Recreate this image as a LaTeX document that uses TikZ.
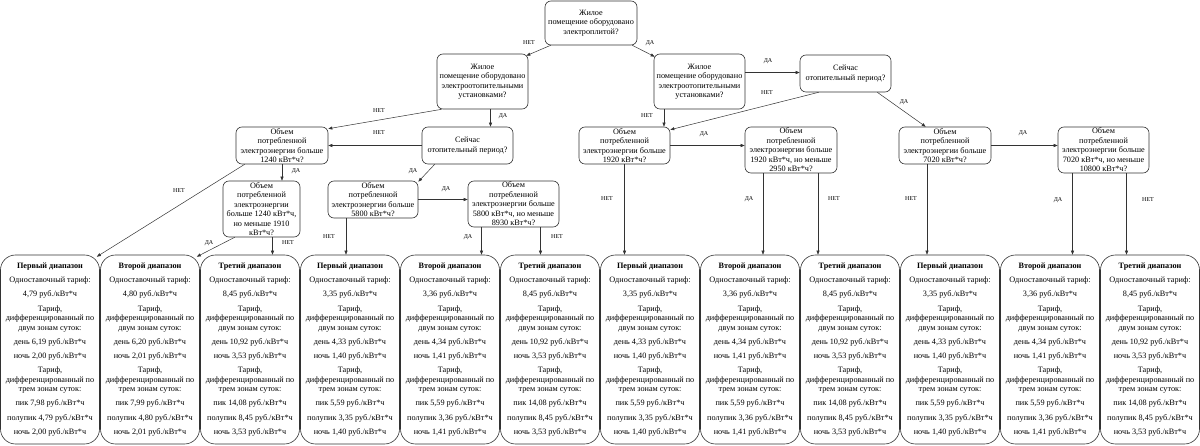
\documentclass[tikz,border=0pt]{standalone}
\usepackage{fontspec}
\setmainfont{Liberation Serif}
\usetikzlibrary{arrows.meta,calc}
\newcommand\tarifftext[7]{\textbf{#1}\\[4.7pt]Одноставочный тариф:\\[4.7pt]#2 руб./кВт*ч\\[4.7pt]Тариф,\\дифференцированный по\\двум зонам суток:\\[4.7pt]день #3 руб./кВт*ч\\[4.7pt]ночь #4 руб./кВт*ч\\[4.7pt]Тариф,\\дифференцированный по\\трем зонам суток:\\[4.7pt]пик #5 руб./кВт*ч\\[4.7pt]полупик #6 руб./кВт*ч\\[4.7pt]ночь #7 руб./кВт*ч}
\begin{document}
\begin{tikzpicture}[x=1pt,y=-1pt,font=\fontsize{8.2}{9.5}\selectfont,
  dec/.style={draw=black!80,line width=0.6pt,rounded corners=6pt,align=center,inner sep=0pt},
  tbox/.style={draw=black!80,line width=0.6pt,rounded corners=15pt,align=center,inner sep=0pt,minimum width=99pt,minimum height=189pt},
  arr/.style={draw=black!80,line width=0.5pt,-{Triangle[length=4pt,width=3pt]}},
  lbl/.style={font=\fontsize{6}{7}\selectfont,inner sep=0pt}]
\useasboundingbox (0,0) rectangle (1200,446);
% decision nodes
\node[dec,minimum width=92pt,minimum height=44pt] (A) at (591,23) {Жилое\\помещение оборудовано\\электроплитой?};
\node[dec,minimum width=91pt,minimum height=55pt] (B) at (482.5,81.5) {Жилое\\помещение оборудовано\\электроотопительными\\установками?};
\node[dec,minimum width=91pt,minimum height=55pt] (C) at (699.5,81.5) {Жилое\\помещение оборудовано\\электроотопительными\\установками?};
\node[dec,minimum width=91pt,minimum height=37pt] (D) at (845.5,73.5) {Сейчас\\отопительный период?};
\node[dec,minimum width=92pt,minimum height=37pt] (E) at (282,145.5) {Объем\\потребленной\\электроэнергии больше\\1240 кВт*ч?};
\node[dec,minimum width=91pt,minimum height=37pt] (F) at (467.5,145.5) {Сейчас\\отопительный период?};
\node[dec,minimum width=77pt,minimum height=56pt] (G) at (261.5,209) {Объем\\потребленной\\электроэнергии\\больше 1240 кВт*ч,\\но меньше 1910\\кВт*ч?};
\node[dec,minimum width=90pt,minimum height=37pt] (H) at (373,199.5) {Объем\\потребленной\\электроэнергии больше\\5800 кВт*ч?};
\node[dec,minimum width=91pt,minimum height=46pt] (I) at (513.5,204) {Объем\\потребленной\\электроэнергии больше\\5800 кВт*ч, но меньше\\8930 кВт*ч?};
\node[dec,minimum width=91pt,minimum height=37pt] (J) at (624.5,145.5) {Объем\\потребленной\\электроэнергии больше\\1920 кВт*ч?};
\node[dec,minimum width=92pt,minimum height=46pt] (K) at (791,150) {Объем\\потребленной\\электроэнергии больше\\1920 кВт*ч, но меньше\\2950 кВт*ч?};
\node[dec,minimum width=92pt,minimum height=37pt] (L) at (945,145.5) {Объем\\потребленной\\электроэнергии больше\\7020 кВт*ч?};
\node[dec,minimum width=91pt,minimum height=46pt] (M) at (1103.5,150) {Объем\\потребленной\\электроэнергии больше\\7020 кВт*ч, но меньше\\10800 кВт*ч?};
% tariff boxes
\node[tbox] (r1) at (50,349.5) {\tarifftext{Первый диапазон}{4,79}{6,19}{2,00}{7,98}{4,79}{2,00}};
\node[tbox] (r2) at (150,349.5) {\tarifftext{Второй диапазон}{4,80}{6,20}{2,01}{7,99}{4,80}{2,01}};
\node[tbox] (r3) at (250,349.5) {\tarifftext{Третий диапазон}{8,45}{10,92}{3,53}{14,08}{8,45}{3,53}};
\node[tbox] (r4) at (350,349.5) {\tarifftext{Первый диапазон}{3,35}{4,33}{1,40}{5,59}{3,35}{1,40}};
\node[tbox] (r5) at (450,349.5) {\tarifftext{Второй диапазон}{3,36}{4,34}{1,41}{5,59}{3,36}{1,41}};
\node[tbox] (r6) at (550,349.5) {\tarifftext{Третий диапазон}{8,45}{10,92}{3,53}{14,08}{8,45}{3,53}};
\node[tbox] (r7) at (650,349.5) {\tarifftext{Первый диапазон}{3,35}{4,33}{1,40}{5,59}{3,35}{1,40}};
\node[tbox] (r8) at (750,349.5) {\tarifftext{Второй диапазон}{3,36}{4,34}{1,41}{5,59}{3,36}{1,41}};
\node[tbox] (r9) at (850,349.5) {\tarifftext{Третий диапазон}{8,45}{10,92}{3,53}{14,08}{8,45}{3,53}};
\node[tbox] (r10) at (950,349.5) {\tarifftext{Первый диапазон}{3,35}{4,33}{1,40}{5,59}{3,35}{1,40}};
\node[tbox] (r11) at (1050,349.5) {\tarifftext{Второй диапазон}{3,36}{4,34}{1,41}{5,59}{3,36}{1,41}};
\node[tbox] (r12) at (1150,349.5) {\tarifftext{Третий диапазон}{8,45}{10,92}{3,53}{14,08}{8,45}{3,53}};
% helper coordinates
\coordinate (bF) at ([shift={(8,0)}]B.south);
\coordinate (gR3) at ([shift={(11,0)}]G.south);
\coordinate (hR4) at ([shift={(-27,0)}]H.south);
\coordinate (iR5) at ([shift={(-32,0)}]I.south);
\coordinate (iR6) at ([shift={(27,0)}]I.south);
\coordinate (cJ) at ([shift={(-35.5,0)}]C.south);
\coordinate (cD) at ([shift={(0,-9)}]C.east);
\coordinate (kR8) at ([shift={(-28,0)}]K.south);
\coordinate (kR9) at ([shift={(27,0)}]K.south);
\coordinate (lR10) at ([shift={(-18,0)}]L.south);
\coordinate (mR11) at ([shift={(-31,0)}]M.south);
\coordinate (mR12) at ([shift={(23,0)}]M.south);
% connectors
\draw[arr] ([shift={(6,0)}]A.south west) -- ([shift={(-2,2)}]B.north east);
\draw[arr] ([shift={(-5,0)}]A.south east) -- ([shift={(1,3)}]C.north west);
\draw[arr] ([shift={(5,0)}]B.south west) -- ([shift={(0,2)}]E.north east);
\draw[arr] (bF) -- (bF |- F.north);
\draw[arr] (F.west) -- (E.east);
\draw[arr] ([shift={(13,0)}]F.south west) -- ([shift={(0,1)}]H.north east);
\draw[arr] (H.east) -- (H.east -| I.west);
\draw[arr] (E.south) -- (E.south |- G.north);
\draw[arr] ([shift={(9,0)}]E.south west) -- ([shift={(-3,2)}]r1.north east);
\draw[arr] ([shift={(12,0)}]G.south west) -- ([shift={(-3,2)}]r2.north east);
\draw[arr] (gR3) -- (gR3 |- r3.north);
\draw[arr] (hR4) -- (hR4 |- r4.north);
\draw[arr] (iR5) -- (iR5 |- r5.north);
\draw[arr] (iR6) -- (iR6 |- r6.north);
\draw[arr] (cJ) -- (cJ |- J.north);
\draw[arr] (cD) -- (cD -| D.west);
\draw[arr] ([shift={(19,0)}]D.south west) -- ([shift={(0,3)}]J.north east);
\draw[arr] (J.east) -- (J.east -| K.west);
\draw[arr] (J.south) -- (J.south |- r7.north);
\draw[arr] (kR8) -- (kR8 |- r8.north);
\draw[arr] (kR9) -- (kR9 |- r9.north);
\draw[arr] ([shift={(-14,0)}]D.south east) -- ([shift={(27,0)}]L.north west);
\draw[arr] (L.east) -- (L.east -| M.west);
\draw[arr] (lR10) -- (lR10 |- r10.north);
\draw[arr] (mR11) -- (mR11 |- r11.north);
\draw[arr] (mR12) -- (mR12 |- r12.north);
% labels
\node[lbl] (l1) at (529,43) {НЕТ};
\node[lbl] (l2) at (650,43) {ДА};
\node[lbl] (l3) at (379,111) {НЕТ};
\node[lbl] (l4) at (503,116) {ДА};
\node[lbl] (l5) at (379,133) {НЕТ};
\node[lbl] (l6) at (413,171) {ДА};
\node[lbl] (l7) at (446,189) {ДА};
\node[lbl] (l8) at (296,171) {ДА};
\node[lbl] (l9) at (179,191) {НЕТ};
\node[lbl] (l10) at (209,243) {ДА};
\node[lbl] (l11) at (288,243) {НЕТ};
\node[lbl] (l12) at (329,237) {НЕТ};
\node[lbl] (l13) at (468,237) {ДА};
\node[lbl] (l14) at (557,237) {НЕТ};
\node[lbl] (l15) at (647,116) {НЕТ};
\node[lbl] (l16) at (768,61) {ДА};
\node[lbl] (l17) at (767,93) {НЕТ};
\node[lbl] (l18) at (704,134) {ДА};
\node[lbl] (l19) at (607,199) {НЕТ};
\node[lbl] (l20) at (749,199) {ДА};
\node[lbl] (l21) at (834,199) {НЕТ};
\node[lbl] (l22) at (904,102) {ДА};
\node[lbl] (l23) at (1023,133) {ДА};
\node[lbl] (l24) at (911,199) {НЕТ};
\node[lbl] (l25) at (1058,200) {ДА};
\node[lbl] (l26) at (1148,200) {НЕТ};
\end{tikzpicture}
\end{document}
